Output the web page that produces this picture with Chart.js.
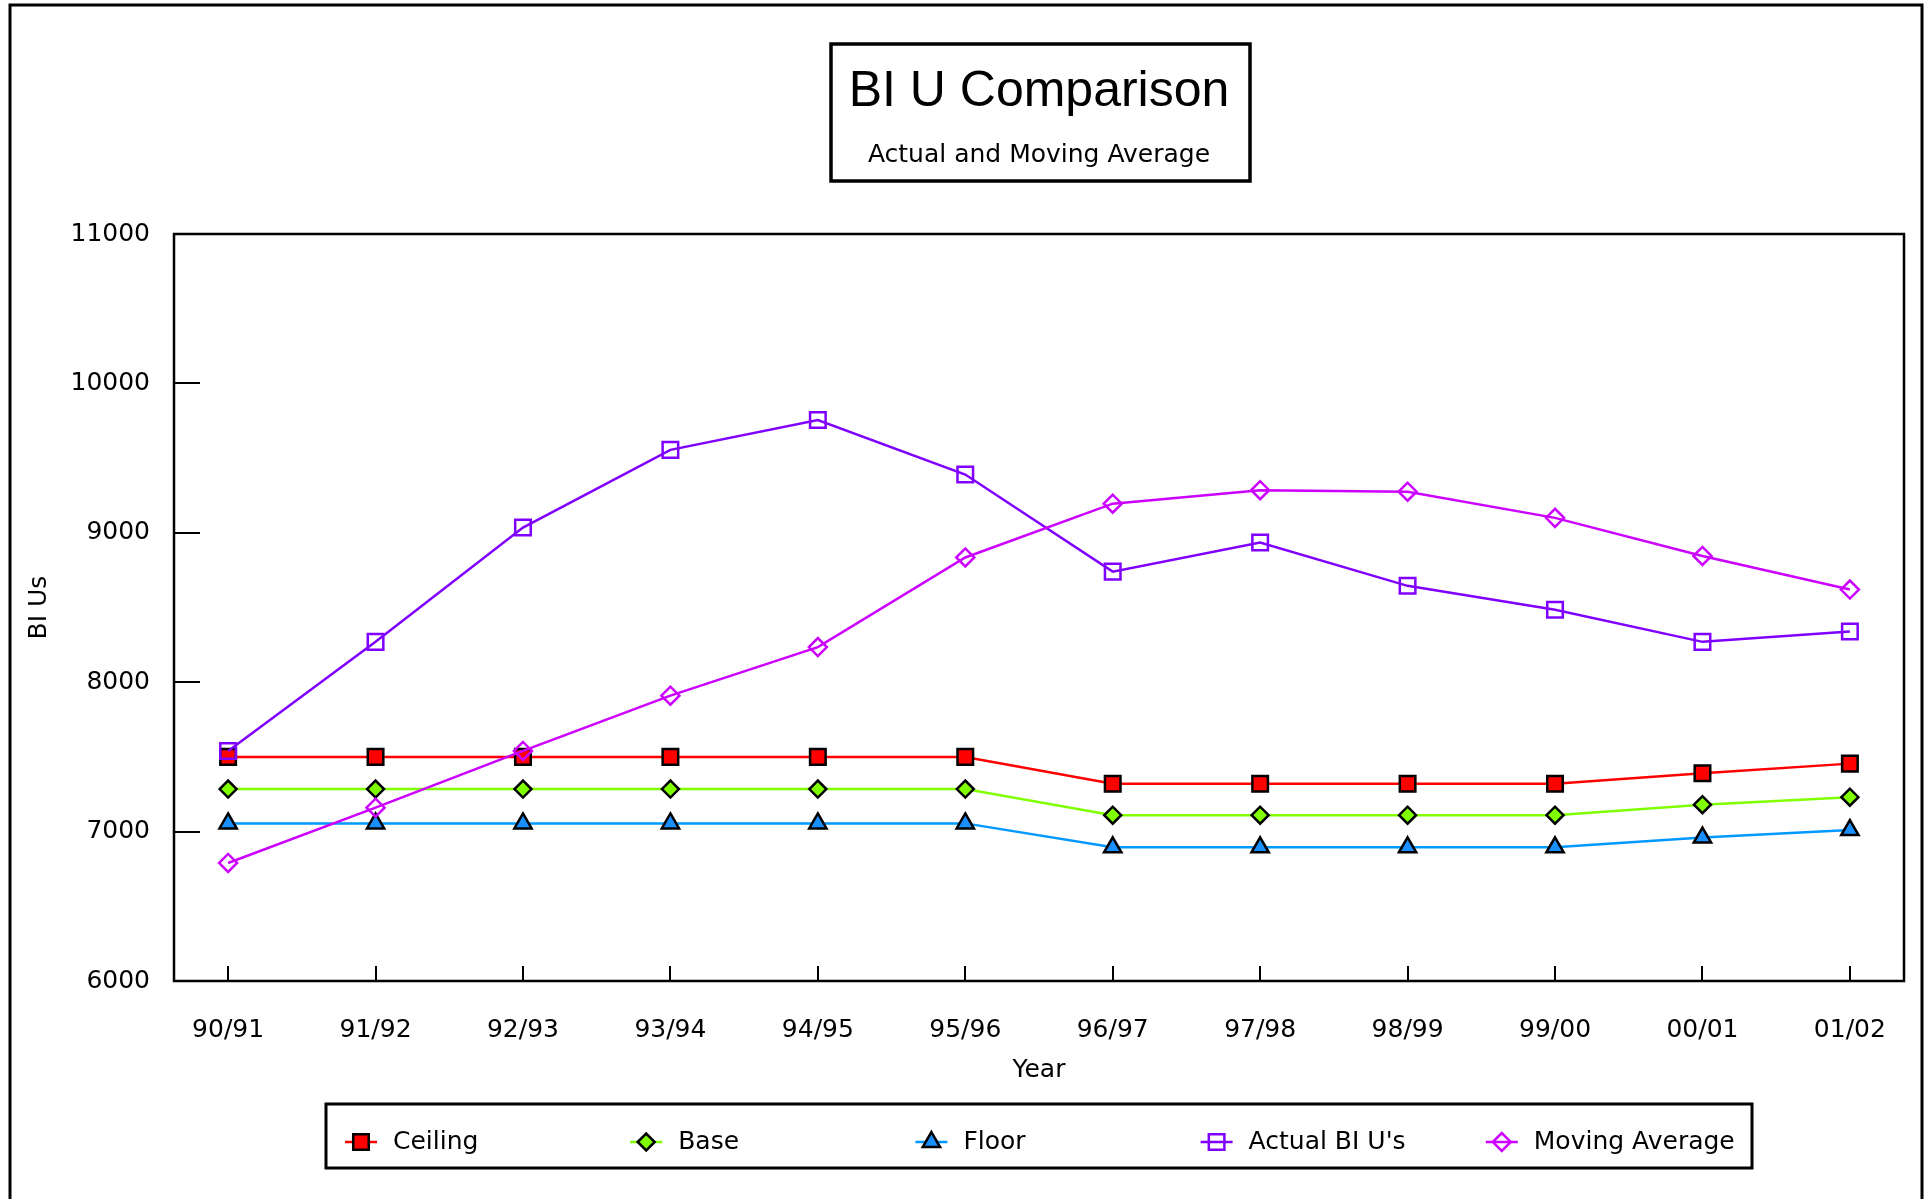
<!DOCTYPE html>
<html>
<head>
<meta charset="utf-8">
<title>BIU Comparison</title>
<script src="https://cdn.jsdelivr.net/npm/chart.js@4.4.1/dist/chart.umd.min.js"></script>
<style>
html, body { margin: 0; padding: 0; background: #fff; }
</style>
</head>
<body>
<canvas id="Chart" width="1931" height="1199"></canvas>
<script>
var years = ['90/91', '91/92', '92/93', '93/94', '94/95', '95/96', '96/97', '97/98', '98/99', '99/00', '00/01', '01/02'];
var yTicks = [6000, 7000, 8000, 9000, 10000, 11000];

var ceiling   = [7500, 7500, 7500, 7500, 7500, 7500, 7320, 7320, 7320, 7320, 7390, 7455];
var base      = [7285, 7285, 7285, 7285, 7285, 7285, 7110, 7110, 7110, 7110, 7180, 7230];
var floor     = [7055, 7055, 7055, 7055, 7055, 7055, 6895, 6895, 6895, 6895, 6960, 7010];
var actual    = [7540, 8270, 9035, 9555, 9755, 9390, 8740, 8935, 8645, 8485, 8270, 8340];
var movingAvg = [6790, 7160, 7540, 7910, 8235, 8835, 9195, 9285, 9275, 9100, 8845, 8620];

Chart.defaults.font.family = 'DejaVu Sans';
Chart.defaults.font.size = 25;
Chart.defaults.color = '#000';

function pts(arr){
    return arr.map(function(v, i){ return {x: i, y: v}; });
}

/* inward ticks, plot frame, page frame, title box, legend */
var framePlugin = {
    id: 'frames',
    beforeDatasetsDraw: function(chart){
        var ctx = chart.ctx, a = chart.chartArea;
        var xs = chart.scales.x, ys = chart.scales.y;
        ctx.save();
        ctx.strokeStyle = '#000';
        ctx.lineWidth = 2;
        ctx.beginPath();
        xs.ticks.forEach(function(t){
            var px = Math.round(xs.getPixelForValue(t.value));
            ctx.moveTo(px, a.bottom);
            ctx.lineTo(px, a.bottom - 15);
        });
        ys.ticks.forEach(function(t){
            var py = Math.round(ys.getPixelForValue(t.value));
            ctx.moveTo(a.left, py);
            ctx.lineTo(a.left + 26, py);
        });
        ctx.stroke();
        ctx.lineWidth = 2.5;
        ctx.strokeRect(a.left, a.top, a.right - a.left, a.bottom - a.top);
        ctx.restore();
    },
    afterDraw: function(chart){
        var ctx = chart.ctx, a = chart.chartArea;
        var cx = (a.left + a.right) / 2;
        ctx.save();
        ctx.strokeStyle = '#000';
        // page frame (open at the bottom)
        ctx.lineWidth = 3;
        ctx.beginPath();
        ctx.moveTo(10, chart.height);
        ctx.lineTo(10, 5);
        ctx.lineTo(1922, 5);
        ctx.lineTo(1922, chart.height);
        ctx.stroke();
        // title box
        ctx.lineWidth = 3.5;
        ctx.strokeRect(cx - 208, 44, 419, 137);
        // legend box
        var lw = 1426, lx = cx - lw / 2, ly = 1104, lh = 64;
        ctx.lineWidth = 3;
        ctx.strokeRect(lx, ly, lw, lh);
        var col = lw / 5, my = 1142;
        ctx.font = '25px "DejaVu Sans"';
        ctx.textBaseline = 'middle';
        ctx.textAlign = 'left';
        chart.data.datasets.forEach(function(ds, i){
            var sx = lx + 19 + i * col;
            ctx.strokeStyle = ds.borderColor;
            ctx.lineWidth = 2.5;
            ctx.beginPath();
            ctx.moveTo(sx, my);
            ctx.lineTo(sx + 32, my);
            ctx.stroke();
            ctx.fillStyle = ds.pointBackgroundColor;
            ctx.strokeStyle = ds.pointBorderColor;
            ctx.lineWidth = ds.pointBorderWidth;
            Chart.helpers.drawPoint(ctx, {pointStyle: ds.pointStyle, radius: ds.pointRadius, borderWidth: ds.pointBorderWidth, rotation: 0}, sx + 16, my);
            ctx.fillStyle = '#000';
            ctx.fillText(ds.label, sx + 48, my);
        });
        ctx.restore();
    }
};

var chart = new Chart(document.getElementById('Chart'), {
    type: 'line',
    data: {
        datasets: [
            {label: 'Ceiling', data: pts(ceiling), borderColor: '#ff0000', borderWidth: 2.5,
             pointStyle: 'rect', pointRadius: 11, pointBackgroundColor: '#ff0000', pointBorderColor: '#000', pointBorderWidth: 2.5, order: 4},
            {label: 'Base', data: pts(base), borderColor: '#80ff00', borderWidth: 2.5,
             pointStyle: 'rectRot', pointRadius: 8.5, pointBackgroundColor: '#80ff00', pointBorderColor: '#000', pointBorderWidth: 2.5, order: 3},
            {label: 'Floor', data: pts(floor), borderColor: '#0099ff', borderWidth: 2.5,
             pointStyle: 'triangle', pointRadius: 10, pointBackgroundColor: '#1a8fff', pointBorderColor: '#000', pointBorderWidth: 2.5, order: 2},
            {label: "Actual BI U's", data: pts(actual), borderColor: '#8000ff', borderWidth: 2.5,
             pointStyle: 'rect', pointRadius: 11, pointBackgroundColor: 'rgba(255,255,255,0)', pointBorderColor: '#8000ff', pointBorderWidth: 2.5, order: 1},
            {label: 'Moving Average', data: pts(movingAvg), borderColor: '#cc00ff', borderWidth: 2.5,
             pointStyle: 'rectRot', pointRadius: 9, pointBackgroundColor: 'rgba(255,255,255,0)', pointBorderColor: '#cc00ff', pointBorderWidth: 2.5, order: 0}
        ]
    },
    options: {
        responsive: false,
        animation: false,
        layout: {padding: {top: 0, right: 27, bottom: 114, left: 0}},
        plugins: {
            legend: {display: false},
            tooltip: {enabled: false},
            title: {display: true, text: 'BI U Comparison', fullSize: false,
                    font: {family: 'Liberation Sans', size: 50, weight: 'normal'}, padding: {top: 62, bottom: 0}},
            subtitle: {display: true, text: 'Actual and Moving Average', fullSize: false,
                       font: {size: 25}, padding: {top: 18, bottom: 64}}
        },
        scales: {
            x: {
                type: 'linear', min: -0.367, max: 11.367,
                grid: {display: false, drawTicks: false}, border: {display: false},
                afterBuildTicks: function(s){ s.ticks = years.map(function(y, i){ return {value: i}; }); },
                ticks: {autoSkip: false, maxRotation: 0, padding: 34,
                        callback: function(v){ return years[v]; }},
                title: {display: true, text: 'Year', padding: {top: 10, bottom: 0}},
                afterFit: function(s){ s.height = 104; }
            },
            y: {
                min: 6000, max: 11000,
                grid: {display: false, drawTicks: false}, border: {display: false},
                afterBuildTicks: function(s){ s.ticks = yTicks.map(function(v){ return {value: v}; }); },
                ticks: {padding: 24, callback: function(v){ return String(v); }},
                title: {display: true, text: 'BI Us', padding: {top: 24, bottom: 0}},
                afterFit: function(s){ s.width = 174; }
            }
        }
    },
    plugins: [framePlugin]
});
</script>
</body>
</html>
